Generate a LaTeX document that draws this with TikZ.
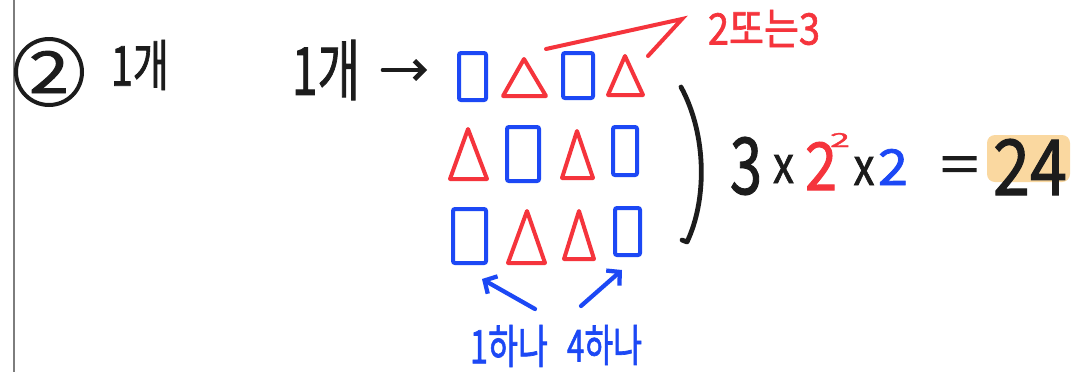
\documentclass[tikz,border=0pt]{standalone}
\usepackage{fontspec}
\setmainfont{Noto Sans CJK KR}[UprightFeatures={FakeBold=1.5}]
\usepackage{graphicx}
\usetikzlibrary{arrows.meta,calc}
\newlength\pxu \setlength\pxu{0.75pt}
\newcommand\fitt[3]{\resizebox*{#1\pxu}{#2\pxu}{#3}}
\definecolor{ink}{RGB}{28,28,28}
\definecolor{pblue}{RGB}{28,72,245}
\definecolor{pred}{RGB}{245,52,60}
\definecolor{hl}{RGB}{250,216,160}
\definecolor{rulec}{RGB}{125,125,125}
\begin{document}
\begin{tikzpicture}[x=0.75pt,y=-0.75pt,
  txt/.style={inner sep=0pt,outer sep=0pt,anchor=center},
  sq/.style 2 args={draw=pblue,line width=3pt,rounded corners=1.5pt,inner sep=0pt,
     minimum width=#1\pxu,minimum height=#2\pxu},
  tri/.style={draw=pred,line width=3pt,line join=round},
  karrow/.style={draw=ink,line width=3.5pt,line cap=round,
     -{Straight Barb[length=7pt,width=14pt,line width=3.5pt]}},
  barrow/.style={draw=pblue,line width=3.2pt,line cap=round,
     -{Straight Barb[length=7pt,width=15pt,line width=3.2pt]}}]
\useasboundingbox (0,0) rectangle (1086,372);
\fill[white] (0,0) rectangle (1086,372);
% left margin rule
\draw[rulec,line width=1.4pt] (14,0) -- (14,372);
% circled 2 and 1개
\node[circle,draw=ink,line width=3pt,minimum size=66\pxu,inner sep=0pt,text=ink] (c2) at (49,72) {\fitt{40}{42}{2}};
\node[txt,text=ink] (k1) at (140,65) {\fitt{58}{50}{1개}};
\node[txt,text=ink] (k2) at (326,70) {\fitt{68}{60}{1개}};
% rectangles
\node[sq={27}{47}] (r11) at (472.5,76.5) {};
\node[sq={30}{45}] (r12) at (578,75.5) {};
\node[sq={32}{54}] (r22) at (523,154) {};
\node[sq={24}{48}] (r24) at (625,151) {};
\node[sq={33}{54}] (r31) at (469.5,236) {};
\node[sq={25}{47}] (r34) at (627.5,231.5) {};
% triangles
\draw[tri] (503,96) -- (524,59) coordinate (t12) -- (546,96) -- cycle;
\draw[tri] (608,95) -- (625,56) coordinate (t14) -- (643,95) -- cycle;
\draw[tri] (450,179) -- (468,129) coordinate (t21) -- (487,179) -- cycle;
\draw[tri] (562,178) -- (577,131) coordinate (t23) -- (593,178) -- cycle;
\draw[tri] (508,263) -- (527,211) coordinate (t32) -- (545,263) -- cycle;
\draw[tri] (564,259) -- (579,211) coordinate (t33) -- (594,259) -- cycle;
% arrow 1개 -> first row
\draw[karrow,shorten <=23\pxu,shorten >=30\pxu] (k2.east) -- (k2.east -| r11.west);
% red annotation
\coordinate (vtip) at (682,19);
\draw[pred,line width=3pt,line cap=round] (546,49) -- (vtip) -- (648,56);
\node[txt,text=pred] (ann) at (764,28.5) {\fitt{112}{37}{2또는3}};
% bracket
\draw[ink,line width=3.6pt,line cap=round,line join=round]
  (681,87) .. controls (707,135) and (707,200) .. (687,242) -- (682,240);
% equation
\node[txt,text=ink] (e3) at (746,166) {\fitt{32}{58}{3}};
\node[txt,text=ink] (ex1) at (783.5,169) {\fitt{21}{28}{x}};
\node[txt,text=pred] (e2r) at (821,166) {\fitt{32}{48}{2}};
\node[txt,text=pred] (e2s) at (840,140) {\fitt{20}{14}{2}};
\node[txt,text=ink] (ex2) at (864,171) {\fitt{21}{28}{x}};
\node[txt,text=pblue] (e2b) at (893,167) {\fitt{30}{36}{2}};
\node[txt,text=ink] (eq) at (959.5,169.5) {\fitt{38}{26}{=}};
\fill[hl,rounded corners=6pt] (987,135) rectangle (1070,182);
\node[txt,text=ink] (res) at (1030,167) {\fitt{74}{56}{24}};
% bottom labels and arrows
\node[txt,text=pblue] (b1) at (509,346) {\fitt{78}{42}{1하나}};
\node[txt,text=pblue] (b4) at (604.5,345) {\fitt{75}{40}{4하나}};
\draw[barrow] ($(b1.north east)+(-13,-16)$) -- ($(r31.south)+(12.5,14)$);
\draw[barrow] ($(b4.north west)+(14,-19)$) -- ($(r34.south)+(-5.5,13)$);
\end{tikzpicture}
\end{document}
